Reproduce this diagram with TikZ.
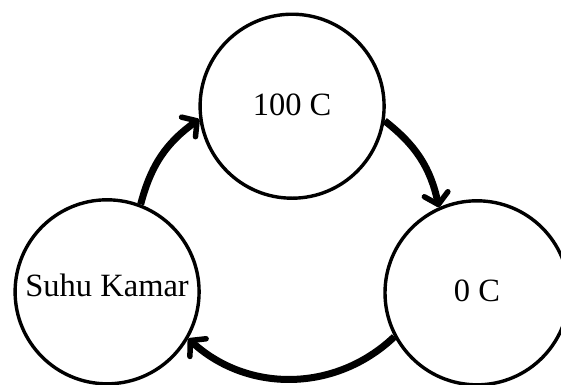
\documentclass[tikz,border=0pt]{standalone}
\usepackage{fontspec}
\setmainfont{Liberation Serif}
\usetikzlibrary{arrows.meta}
\begin{document}
\begin{tikzpicture}[x=1pt,y=-1pt,
  state/.style={circle,draw,line width=3.4pt,minimum size=184pt,inner sep=0pt,
    font=\fontsize{32.5}{36}\selectfont,text depth=0pt},
  flow/.style={line width=7pt,
    -{Straight Barb[length=10.5pt,width=24pt,line width=5.5pt,round]}}]
\useasboundingbox (0,0) rectangle (561,384);
\node[state,text height=17.6pt] (hot) at (292.1,106.2) {100 C};
\node[state,text height=9.8pt] (room) at (107.1,291.8) {Suhu Kamar};
\node[state,text height=17.8pt] (cold) at (477,292.8) {0 C};
\draw[flow] (room.69) to[bend left=20] (hot.188.7);
\draw[flow] (hot.-9.5) to[bend left=20] (cold.114.6);
\draw[flow] (cold.208.5) to[bend left=43] (room.-30.3);
\end{tikzpicture}
\end{document}
